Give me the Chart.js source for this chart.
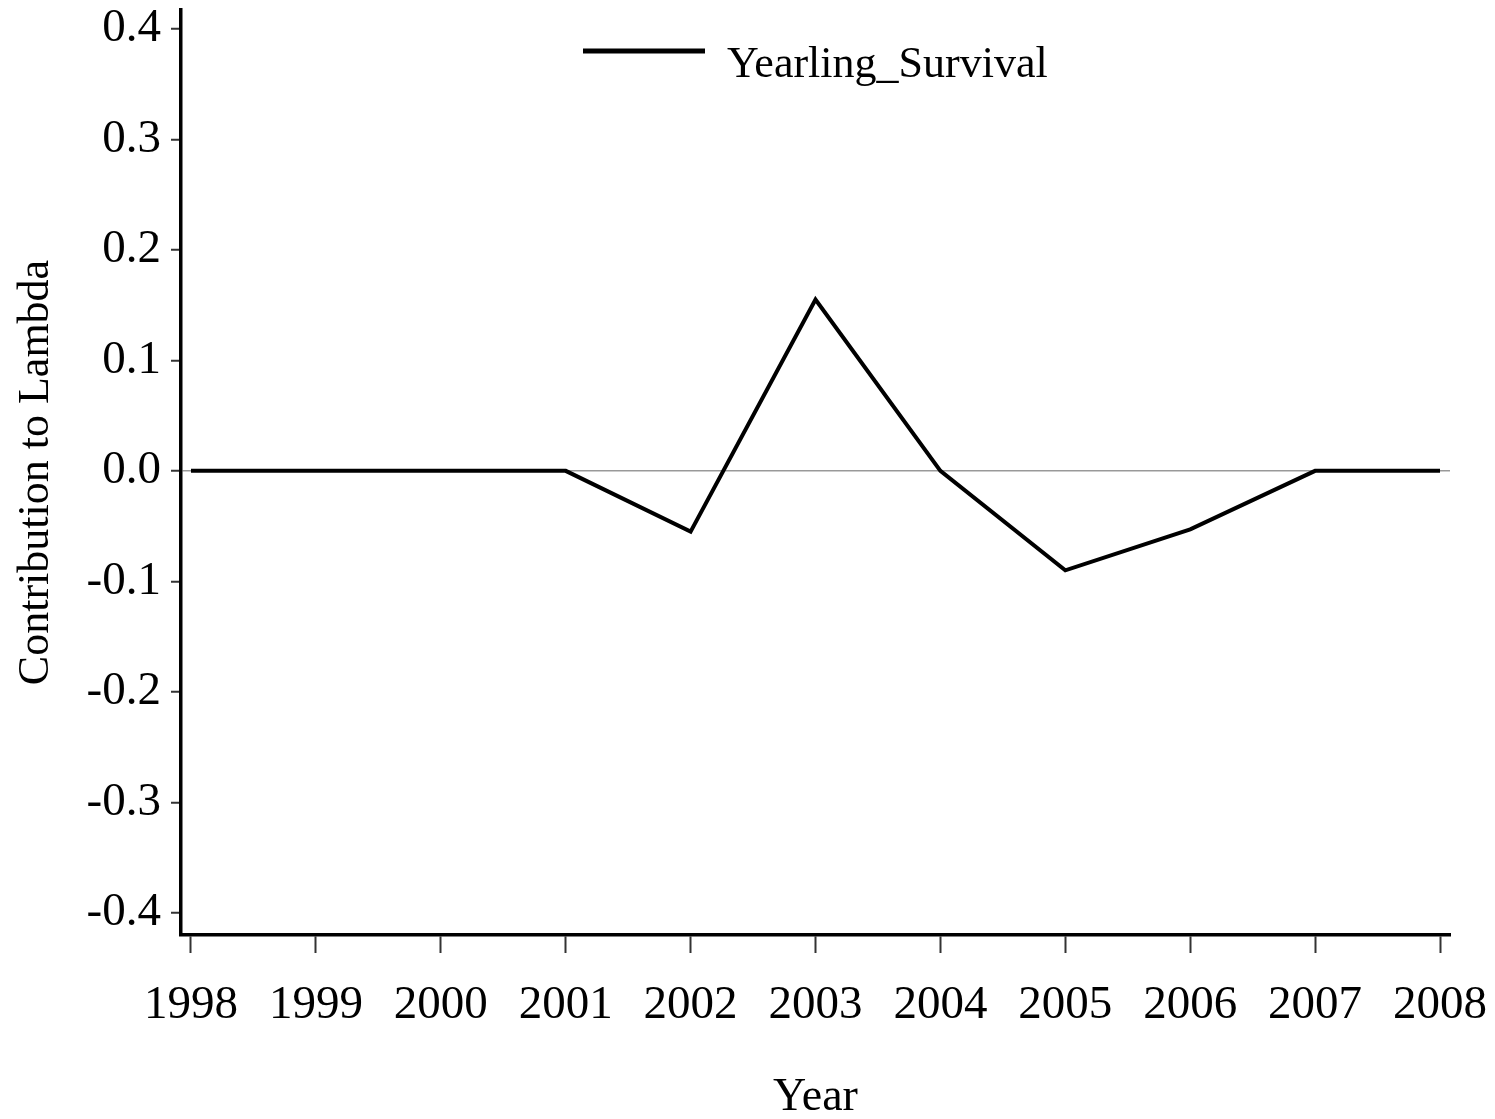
<!DOCTYPE html>
<html>
<head>
<meta charset="utf-8">
<script src="https://cdn.jsdelivr.net/npm/chart.js@4/dist/chart.umd.min.js"></script>
<style>
html,body{margin:0;padding:0;background:#fff;}
#wrap{width:1495px;height:1119px;position:relative;}
</style>
</head>
<body>
<div id="wrap"><canvas id="c" width="1495" height="1119"></canvas></div>
<script>
const years = [1998, 1999, 2000, 2001, 2002, 2003, 2004, 2005, 2006, 2007, 2008];
const yearlingSurvival = [0, 0, 0, 0, -0.055, 0.155, 0, -0.09, -0.053, 0, 0];
const yTicks = [-0.4, -0.3, -0.2, -0.1, 0.0, 0.1, 0.2, 0.3, 0.4];
const seriesName = 'Yearling_Survival';
const xTitle = 'Year';
const yTitle = 'Contribution to Lambda';

const FONT = '"Liberation Serif", "Times New Roman", serif';

const legendPlugin = {
  id: 'customLegend',
  afterDraw(chart) {
    const ctx = chart.ctx;
    const ds = chart.data.datasets[0];
    ctx.save();
    ctx.strokeStyle = ds.borderColor;
    ctx.lineWidth = 5;
    ctx.beginPath();
    ctx.moveTo(583, 51);
    ctx.lineTo(705, 51);
    ctx.stroke();
    ctx.fillStyle = '#000';
    ctx.font = '44px ' + FONT;
    ctx.textBaseline = 'alphabetic';
    ctx.textAlign = 'left';
    ctx.fillText(ds.label, 727, 77);
    ctx.restore();
  }
};

new Chart(document.getElementById('c'), {
  type: 'line',
  data: {
    datasets: [{
      label: seriesName,
      data: years.map((y, i) => ({x: y, y: yearlingSurvival[i]})),
      borderColor: '#000',
      backgroundColor: '#000',
      borderWidth: 4,
      pointRadius: 0,
      tension: 0,
      fill: false
    }]
  },
  options: {
    responsive: false,
    animation: false,
    devicePixelRatio: 1,
    layout: {padding: {top: 10, right: 45, left: 0, bottom: 0}},
    plugins: {legend: {display: false}, tooltip: {enabled: false}},
    scales: {
      x: {
        type: 'linear',
        min: 1997.92,
        max: 2008.08,
        afterBuildTicks: s => { s.ticks = years.map(v => ({value: v})); },
        afterFit: s => { s.height = 184; s.paddingLeft = 0; s.paddingRight = 0; },
        grid: {drawOnChartArea: false, drawTicks: true, tickLength: 18, tickColor: '#333', tickWidth: 2},
        border: {display: true, color: '#000', width: 3.5},
        ticks: {
          color: '#000',
          padding: 24,
          maxRotation: 0,
          autoSkip: false,
          font: {family: FONT, size: 47},
          callback: v => String(v)
        },
        title: {display: true, text: xTitle, color: '#000', font: {family: FONT, size: 46}, padding: {top: 34, bottom: -7}}
      },
      y: {
        type: 'linear',
        min: -0.42,
        max: 0.417,
        afterBuildTicks: s => { s.ticks = yTicks.map(v => ({value: v})); },
        afterFit: s => { s.width = 181; s.paddingTop = 0; s.paddingBottom = 0; },
        grid: {
          drawOnChartArea: true,
          drawTicks: true,
          tickLength: 10,
          tickColor: '#333',
          tickWidth: 2,
          color: c => (c.tick && Math.abs(c.tick.value) < 1e-9) ? '#999' : 'rgba(0,0,0,0)',
          lineWidth: 1.5
        },
        border: {display: true, color: '#000', width: 3.5},
        ticks: {
          color: '#000',
          padding: 10,
          autoSkip: false,
          font: {family: FONT, size: 47},
          callback: v => v.toFixed(1)
        },
        title: {display: true, text: yTitle, color: '#000', font: {family: FONT, size: 44}, padding: {top: 10, bottom: 0}}
      }
    }
  },
  plugins: [legendPlugin]
});
</script>
</body>
</html>
